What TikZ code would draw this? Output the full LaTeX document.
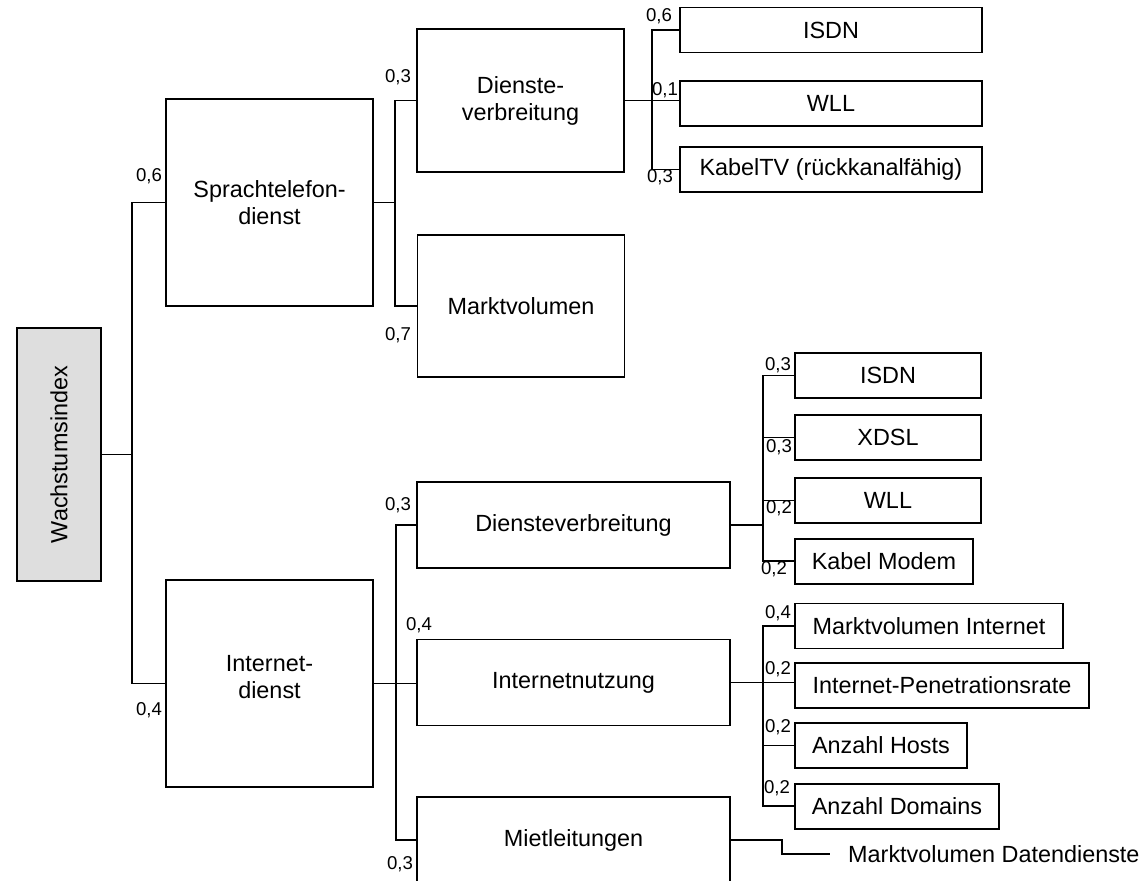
\documentclass[tikz,border=0pt]{standalone}
\usepackage{fontspec}
\setmainfont{Liberation Sans}
\usetikzlibrary{positioning}

\begin{document}
\begin{tikzpicture}[x=1pt, y=-1pt, font=\fontsize{23.4}{27}\selectfont,
  box/.style={rectangle, draw, line width=1.9pt, fill=white, align=center,
              inner sep=0pt},
  leaf/.style={box, anchor=west, minimum height=45pt},
  wt/.style={inner sep=0pt, font=\fontsize{18.6}{20}\selectfont},
  link/.style={line width=1.6pt},
  bold link/.style={line width=2.8pt}]
  \clip (0,0) rectangle (1147,880);
  \node[box, fill=black!13, minimum width=84pt, minimum height=253pt] (root)
    at (59,454.5) {\rotatebox{90}{Wachstumsindex}};
  \node[box, minimum width=207pt, minimum height=207pt] (sprach) at (269.5,202.5)
    {Sprachtelefon-\\dienst};
  \node[box, minimum width=207pt, minimum height=207pt] (inet) at (269.5,683.5)
    {Internet-\\dienst\\[-14pt]};
  \node[box, minimum width=207pt, minimum height=143pt] (sdv) at (520.5,100.5)
    {Dienste-\\verbreitung};
  \node[box, minimum width=207pt, minimum height=142pt] (smv) at (521,306)
    {Marktvolumen};
  \node[box, minimum width=313pt, minimum height=86pt] (idv) at (573.5,525)
    {Diensteverbreitung};
  \node[box, minimum width=313pt, minimum height=86pt] (inu) at (573.5,682.5)
    {Internetnutzung};
  \node[box, minimum width=313pt, minimum height=86pt] (mlt) at (573.5,840)
    {Mietleitungen};
  \node[leaf, minimum width=302pt] (isdnA) at (679,30) {ISDN};
  \node[leaf, minimum width=302pt, below right=26.5pt and 0pt of isdnA.south west]
    (wllA) {WLL};
  \node[leaf, minimum width=302pt, below right=19pt and 0pt of wllA.south west]
    (ktv) {KabelTV (rückkanalfähig)};
  \node[leaf, minimum width=186pt] (isdnB) at (794,375.5) {ISDN};
  \node[leaf, minimum width=186pt, below right=15pt and 0pt of isdnB.south west]
    (xdsl) {XDSL};
  \node[leaf, minimum width=186pt, below right=16pt and 0pt of xdsl.south west]
    (wllB) {WLL};
  \node[leaf, minimum width=178pt, below right=14pt and 0pt of wllB.south west]
    (modem) {Kabel Modem};
  \node[leaf, minimum width=268pt] (mvi) at (794,626) {Marktvolumen Internet};
  \node[leaf, minimum width=294pt, below right=12.5pt and 0pt of mvi.south west]
    (ipr) {Internet-Penetrationsrate};
  \node[leaf, minimum width=172pt, below right=13pt and 0pt of ipr.south west]
    (hosts) {Anzahl Hosts};
  \node[leaf, minimum width=204pt, below right=14pt and 0pt of hosts.south west]
    (domains) {Anzahl Domains};
  \node[anchor=west, inner sep=0pt] (mvd) at (848,854) {Marktvolumen Datendienste};

  \draw[link] (root.east) -- ++(30,0) coordinate (j0);
  \draw[link] (sprach.west) -| (j0) |- (inet.west);
  \draw[link] (sprach.east) -- ++(21,0) coordinate (j1);
  \draw[link] (sdv.west) -| (j1) |- (smv.west);
  \draw[link] (sdv.east) -- ++(27,0) coordinate (j2);
  \draw[link] (isdnA.west) -| (j2) |- (ktv.west);
  \draw[link] (j2) -- (j2 -| wllA.west);
  \draw[link] (inet.east) -- ++(22,0) coordinate (j3);
  \draw[link] (idv.west) -| (j3) |- (mlt.west);
  \draw[link] (j3) -- (j3 -| inu.west);
  \draw[bold link] (idv.east) -- ++(32,0) coordinate (j4);
  \draw[link] (isdnB.west) -| (j4) |- (modem.west);
  \draw[link] (xdsl.west) -| (j4);
  \draw[link] (wllB.west) -| (j4);
  \draw[link] (inu.east) -- ++(32,0) coordinate (j5);
  \draw[link] (mvi.west) -| (j5) |- (domains.west);
  \draw[link] (j5) -- (j5 -| ipr.west);
  \draw[link] (hosts.west) -| (j5);
  \draw[link] (mlt.east) -- ++(51,0) |- ([xshift=-18pt]mvd.west);

  \node[wt] (w1) at (149,176) {0,6};
  \node[wt] (w2) at (149,710) {0,4};
  \node[wt] (w3) at (398,77) {0,3};
  \node[wt] (w4) at (398,335) {0,7};
  \node[wt] (w5) at (659,16) {0,6};
  \node[wt] (w6) at (665,90) {0,1};
  \node[wt] (w7) at (660,177) {0,3};
  \node[wt] (w8) at (398,505) {0,3};
  \node[wt] (w9) at (419,625) {0,4};
  \node[wt] (w10) at (400,864) {0,3};
  \node[wt] (w11) at (778,365) {0,3};
  \node[wt] (w12) at (779,447) {0,3};
  \node[wt] (w13) at (779,508) {0,2};
  \node[wt] (w14) at (774,569) {0,2};
  \node[wt] (w15) at (778,613) {0,4};
  \node[wt] (w16) at (778,669) {0,2};
  \node[wt] (w17) at (778,727) {0,2};
  \node[wt] (w18) at (777,788) {0,2};
\end{tikzpicture}
\end{document}
